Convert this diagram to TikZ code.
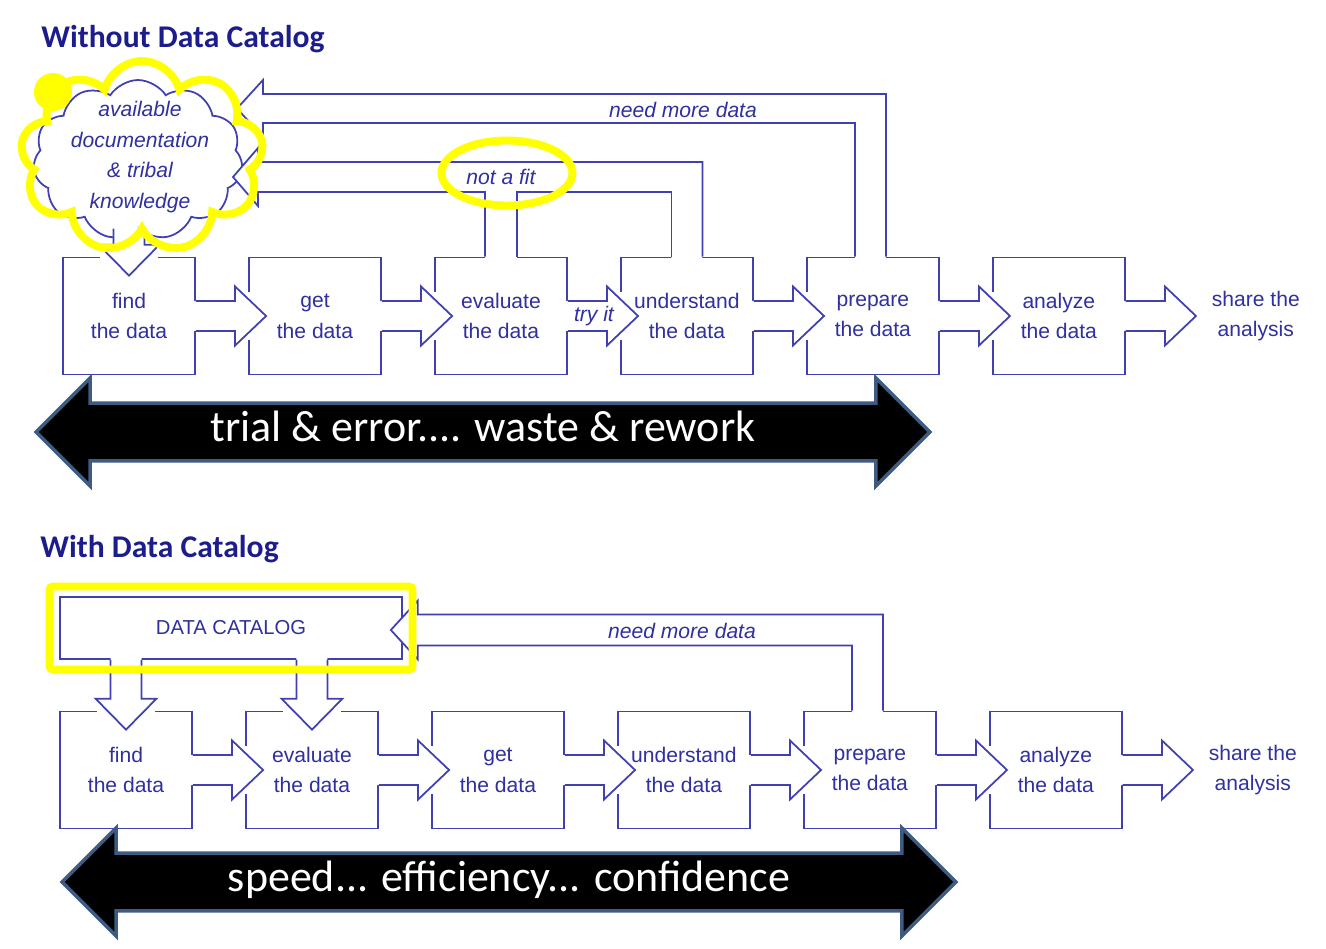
\documentclass[tikz,border=0pt]{standalone}
\usepackage{fontspec}
\setmainfont{Liberation Sans}
\newfontfamily\calfont{Carlito}
\usepackage{tikz}
\usetikzlibrary{positioning,fit,calc,shapes.symbols,shapes.arrows,shapes.geometric}

\definecolor{flowblue}{RGB}{64,64,176}
\definecolor{textblue}{RGB}{48,48,160}
\definecolor{titleblue}{RGB}{28,28,140}
\definecolor{barrim}{RGB}{62,92,130}
\definecolor{hlyellow}{RGB}{255,255,0}

\tikzstyle{stage} = [draw=flowblue, line width=1pt, fill=white, rectangle, minimum height=2.34cm, minimum width=2.64cm, align=center, text=textblue, font=\fontsize{12}{17.5}\selectfont]
\tikzstyle{endstage} = [rectangle, minimum height=2.34cm, minimum width=3.1cm, align=center, text=textblue, font=\fontsize{12}{17.5}\selectfont]
\tikzstyle{flowline} = [draw=flowblue, line width=1pt]
\tikzstyle{note} = [text=textblue, font=\itshape\fontsize{12}{14}\selectfont, inner sep=1pt]
\tikzstyle{heading} = [anchor=west, inner sep=0pt, text=titleblue, font=\calfont\bfseries\fontsize{18}{22}\selectfont]
\tikzstyle{bigarrow} = [double arrow, double arrow head extend=0.5cm, fill=black, draw=barrim, line width=2pt, text=white, minimum height=17.88cm, text height=16pt, text depth=5pt, inner ysep=5pt, font=\calfont\fontsize{25}{30}\selectfont]
\tikzstyle{highlight} = [draw=hlyellow, line width=4.5pt]

% block arrow from one stage to the next one
\newcommand{\flowarrow}[2]{%
  \fill[white] ($(#1.east)+(-2,-15)$) -- ($(#2.west)+(-13,-15)$) -- ($(#2.west)+(-13,-29.5)$) -- ($(#2.west)+(18,0)$) -- ($(#2.west)+(-13,29.5)$) -- ($(#2.west)+(-13,15)$) -- ($(#1.east)+(-2,15)$) -- cycle;
  \fill[white] ($(#2.west)+(-2,-24)$) rectangle ($(#2.west)+(2,24)$);
  \draw[flowline] ($(#1.east)+(0,-15)$) -- ($(#2.west)+(-13,-15)$) -- ($(#2.west)+(-13,-29.5)$) -- ($(#2.west)+(18,0)$) -- ($(#2.west)+(-13,29.5)$) -- ($(#2.west)+(-13,15)$) -- ($(#1.east)+(0,15)$);
}
% block arrow going down into a stage
\newcommand{\droparrow}[2]{%
  \fill[white] ($(#1.south -| #2.north)+(-15.5,-2)$) -- ($(#2.north)+(-15.5,-12)$) -- ($(#2.north)+(-30.5,-12)$) -- ($(#2.north)+(0,19)$) -- ($(#2.north)+(30.5,-12)$) -- ($(#2.north)+(15.5,-12)$) -- ($(#1.south -| #2.north)+(15.5,-2)$) -- cycle;
  \fill[white] ($(#2.north)+(-29,-2)$) rectangle ($(#2.north)+(29,2)$);
  \draw[flowline] ($(#1.south -| #2.north)+(-15.5,0)$) -- ($(#2.north)+(-15.5,-12)$) -- ($(#2.north)+(-30.5,-12)$) -- ($(#2.north)+(0,19)$) -- ($(#2.north)+(30.5,-12)$) -- ($(#2.north)+(15.5,-12)$) -- ($(#1.south -| #2.north)+(15.5,0)$);
}

\begin{document}
\begin{tikzpicture}[x=0.02cm, y=-0.02cm, node distance=1.045cm]
		\useasboundingbox (0,0) rectangle (1326,949);

		% without data catalog
		\node [heading] (without) at (41,39) {Without Data Catalog};

		\node [stage] (find1) at (129,316) {find\\the data};
		\node [stage, right=of find1] (get1) {get\\the data};
		\node [stage, right=of get1] (eval1) {evaluate\\the data};
		\node [stage, right=of eval1] (under1) {understand\\the data};
		\node [stage, right=of under1] (prep1) {prepare\\the data};
		\node [stage, right=of prep1] (anal1) {analyze\\the data};
		\node [endstage, right=of anal1] (share1) {share the\\analysis};

		\node [cloud, cloud puffs=11, cloud puff arc=115, cloud ignores aspect, draw=flowblue, line width=1pt, fill=white, minimum width=4.2cm, minimum height=3.2cm] (docs1) at (138,160) {};
		\node [note, align=center, font=\itshape\fontsize{12}{17.5}\selectfont] (docstext1) at (140,157) {available\\documentation\\\& tribal\\knowledge};
		\droparrow{docs1}{find1}

		\flowarrow{find1}{get1}
		\flowarrow{get1}{eval1}
		\flowarrow{eval1}{under1}
		\flowarrow{under1}{prep1}
		\flowarrow{prep1}{anal1}
		\flowarrow{anal1}{share1}

		\coordinate (need1) at (237,108.5);
		\fill [white] ($(prep1.north)+(13,2)$) |- ($(need1)+(26,-14.5)$) -- ($(need1)+(26,-28.5)$) -- (need1) -- ($(need1)+(26,28.5)$) -- ($(need1)+(26,14.5)$) -| ($(prep1.north)+(-18,2)$) -- cycle;
		\draw [flowline] ($(prep1.north)+(13,0)$) |- ($(need1)+(26,-14.5)$) -- ($(need1)+(26,-28.5)$) -- (need1) -- ($(need1)+(26,28.5)$) -- ($(need1)+(26,14.5)$) -| ($(prep1.north)+(-18,0)$);

		\coordinate (fit1) at (233,177);
		\fill [white] ($(under1.north)+(15.5,2)$) |- ($(fit1)+(25,-15)$) -- ($(fit1)+(25,-29)$) -- (fit1) -- ($(fit1)+(25,29)$) -- ($(fit1)+(25,15)$) -| ($(eval1.north)+(-16,2)$) -- ($(eval1.north)+(16,2)$) -- ($(eval1.north |- fit1)+(16,15)$) -| ($(under1.north)+(-15.5,2)$) -- cycle;
		\draw [flowline] ($(under1.north)+(15.5,0)$) |- ($(fit1)+(25,-15)$) -- ($(fit1)+(25,-29)$) -- (fit1) -- ($(fit1)+(25,29)$) -- ($(fit1)+(25,15)$) -| ($(eval1.north)+(-16,0)$);
		\draw [flowline] ($(eval1.north)+(16,0)$) -- ($(eval1.north |- fit1)+(16,15)$) -| ($(under1.north)+(-15.5,0)$);

		\node [note] (more1) at (683,110) {need more data};
		\node [note] (notfit1) at (eval1.north |- fit1) {not a fit};
		\node [note] (try1) at ($(eval1.east)!0.5!(under1.west)$) {try it};

		\node [highlight, ellipse, minimum width=2.62cm, minimum height=1.3cm] (fitmark1) at ($(notfit1)+(6,-4)$) {};
		\node [highlight, cloud, cloud puffs=9, cloud ignores aspect, minimum width=4.86cm, minimum height=3.84cm] (docsmark1) at (142,157) {};
		\node [circle, fill=hlyellow, minimum size=0.76cm, inner sep=0pt] (docsdot1) at (53,92) {};

		\node [bigarrow] (trial1) at (483,432) {trial \& error.... waste \& rework};

		% with data catalog
		\node [heading] (with) at (40,549) {With Data Catalog};

		\node [stage, minimum width=6.84cm, minimum height=1.24cm, font=\fontsize{11.5}{14}\selectfont] (cat2) at (231,628) {DATA CATALOG};

		\node [stage] (find2) at (126,770) {find\\the data};
		\node [stage, right=of find2] (eval2) {evaluate\\the data};
		\node [stage, right=of eval2] (get2) {get\\the data};
		\node [stage, right=of get2] (under2) {understand\\the data};
		\node [stage, right=of under2] (prep2) {prepare\\the data};
		\node [stage, right=of prep2] (anal2) {analyze\\the data};
		\node [endstage, right=of anal2] (share2) {share the\\analysis};

		\droparrow{cat2}{find2}
		\droparrow{cat2}{eval2}

		\flowarrow{find2}{eval2}
		\flowarrow{eval2}{get2}
		\flowarrow{get2}{under2}
		\flowarrow{under2}{prep2}
		\flowarrow{prep2}{anal2}
		\flowarrow{anal2}{share2}

		\coordinate (need2) at ($(cat2.east)+(-12,2)$);
		\fill [white] ($(prep2.north)+(13,2)$) |- ($(need2)+(27,-15.5)$) -- ($(need2)+(27,-29.5)$) -- (need2) -- ($(need2)+(27,29.5)$) -- ($(need2)+(27,15.5)$) -| ($(prep2.north)+(-18,2)$) -- cycle;
		\draw [flowline] ($(prep2.north)+(13,0)$) |- ($(need2)+(27,-15.5)$) -- ($(need2)+(27,-29.5)$) -- (need2) -- ($(need2)+(27,29.5)$) -- ($(need2)+(27,15.5)$) -| ($(prep2.north)+(-18,0)$);

		\node [note] (more2) at (682,631) {need more data};

		\node [highlight, rounded corners=2pt, fit=(cat2), inner sep=5.5pt] (catmark2) {};

		\node [bigarrow] (speed2) at (509,882) {speed... efficiency... confidence};
\end{tikzpicture}
\end{document}
